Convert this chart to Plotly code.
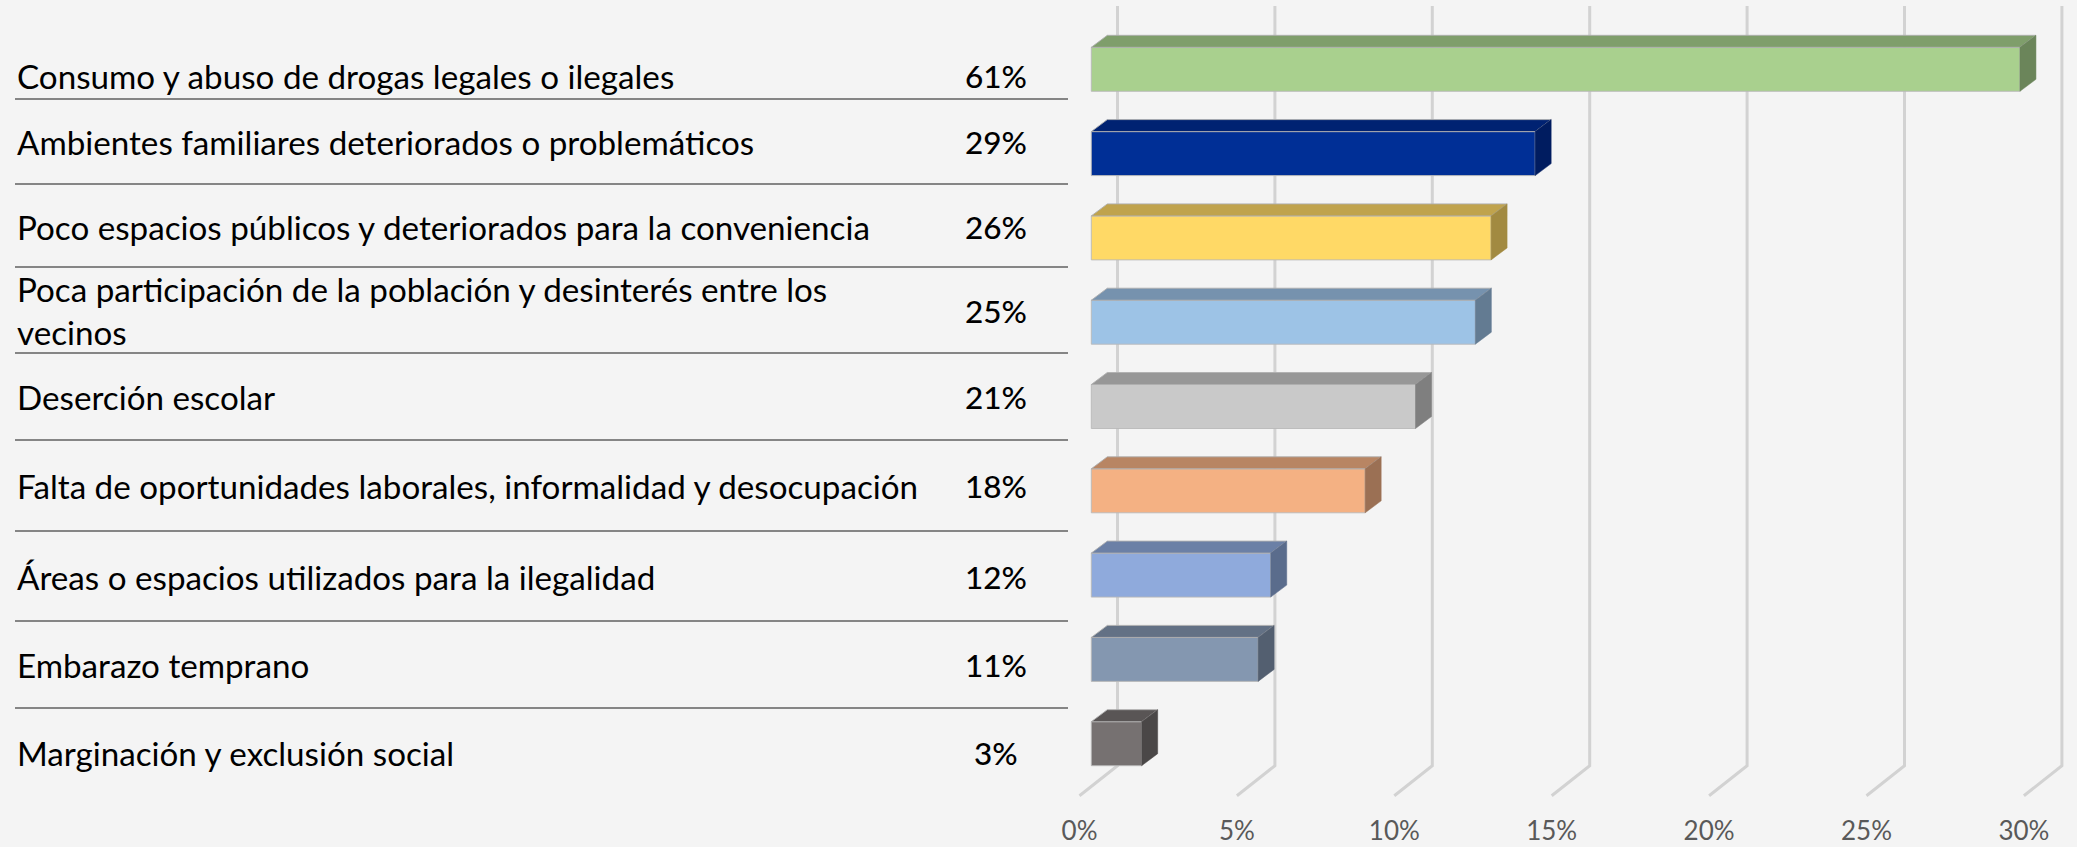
import plotly.graph_objects as go

# ---------------- data ----------------
categories = [
    "Consumo y abuso de drogas legales o ilegales",
    "Ambientes familiares deteriorados o problemáticos",
    "Poco espacios públicos y deteriorados para la conveniencia",
    "Poca participación de la población y desinterés entre los<br>vecinos",
    "Deserción escolar",
    "Falta de oportunidades laborales, informalidad y desocupación",
    "Áreas o espacios utilizados para la ilegalidad",
    "Embarazo temprano",
    "Marginación y exclusión social",
]
pct_labels = ["61%", "29%", "26%", "25%", "21%", "18%", "12%", "11%", "3%"]
bar_values = [29.5, 14.1, 12.7, 12.2, 10.3, 8.7, 5.7, 5.3, 1.6]
tick_values = [0, 5, 10, 15, 20, 25, 30]
tick_labels = ["0%", "5%", "10%", "15%", "20%", "25%", "30%"]

front_colors = ["#a9d08e", "#002f96", "#ffd966", "#9dc3e6", "#c9c9c9",
                "#f4b183", "#8faadc", "#8497b0", "#767171"]
top_colors = ["#7f9e6b", "#002272", "#c0a34d", "#7692ae", "#979797",
              "#b88563", "#6b80a6", "#637185", "#595555"]
side_colors = ["#6b855a", "#001c60", "#a28a41", "#637b92", "#7f7f7f",
               "#9b7054", "#5a6c8c", "#535f70", "#4a4747"]

# ---------------- geometry (pixels) ----------------
W, H = 2077, 847
PB = 813                 # bottom of plot area (px)
PX0, PXS = 1079.5, 31.48  # pixel of x=0 on the floor front edge, px per unit
Y0, YS = 69.3, 84.3      # pixel of first category centre, px per category

BASE = 11.8 / PXS        # oblique offset of bar front plane
BAR_H = 44 / YS          # bar thickness (category units)
DX, DY = 16 / PXS, 12 / YS   # bar depth projection
WALL_DX = 38 / PXS       # wall offset from floor front edge
WALL_TOP = (6 - Y0) / YS
WALL_BOTTOM = (765.7 - Y0) / YS
FLOOR_FRONT = (795.7 - Y0) / YS

idx = list(range(len(categories)))

fig = go.Figure()

# 3D faces: top & side polygons
for i, v in enumerate(bar_values):
    b = BASE
    top = i - BAR_H / 2
    bot = i + BAR_H / 2
    fig.add_trace(go.Scatter(
        x=[b, b + v, b + v + DX, b + DX, b],
        y=[top, top, top - DY, top - DY, top],
        fill="toself", fillcolor=top_colors[i], mode="lines",
        line=dict(color="rgba(175,175,175,0.9)", width=1),
        hoverinfo="skip", showlegend=False))
    fig.add_trace(go.Scatter(
        x=[b + v, b + v + DX, b + v + DX, b + v, b + v],
        y=[top, top - DY, bot - DY, bot, top],
        fill="toself", fillcolor=side_colors[i], mode="lines",
        line=dict(color=side_colors[i], width=0.5),
        hoverinfo="skip", showlegend=False))

# front faces
fig.add_trace(go.Bar(
    x=bar_values, y=idx, base=[BASE] * len(idx), orientation="h",
    width=BAR_H,
    marker=dict(color=front_colors,
                line=dict(color="rgba(185,185,185,0.9)", width=1)),
    hoverinfo="skip", showlegend=False))

shapes = []
# wall + floor gridlines
for t in tick_values:
    shapes.append(dict(
        type="path", xref="x", yref="y", layer="below",
        path=f"M {t + WALL_DX} {WALL_TOP} L {t + WALL_DX} {WALL_BOTTOM} L {t} {FLOOR_FRONT}",
        line=dict(color="#d2d2d2", width=3)))

# table separators
sep_px = [99, 184, 267, 353, 440, 531, 621, 708]
for p in sep_px:
    shapes.append(dict(
        type="line", xref="paper", yref="paper",
        x0=15 / W, x1=1068 / W, y0=1 - p / PB, y1=1 - p / PB,
        line=dict(color="#858585", width=2)))

annotations = []
row_px = [76, 142, 227, 311, 397, 486, 577, 665, 753]
for i, cat in enumerate(categories):
    annotations.append(dict(
        text=cat, x=15 / W, y=1 - row_px[i] / PB, xref="paper", yref="paper",
        xanchor="left", yanchor="middle", align="left", showarrow=False,
        font=dict(family="Lato", size=33.2, color="#000000")))
    annotations.append(dict(
        text=pct_labels[i], x=996 / W, y=1 - row_px[i] / PB,
        xref="paper", yref="paper", xanchor="center", yanchor="middle",
        showarrow=False,
        font=dict(family="Lato", size=31.5, color="#000000", weight=500)))

fig.update_layout(
    width=W, height=H,
    margin=dict(l=0, r=0, t=0, b=H - PB, pad=0, autoexpand=False),
    paper_bgcolor="#f4f4f4", plot_bgcolor="rgba(0,0,0,0)",
    shapes=shapes, annotations=annotations,
    showlegend=False,
    xaxis=dict(range=[-PX0 / PXS, (W - PX0) / PXS], tickvals=tick_values,
               ticktext=tick_labels, showgrid=False, zeroline=False,
               showline=False, ticks="", automargin=False,
               tickfont=dict(family="Lato", size=26, color="#595959")),
    yaxis=dict(range=[(PB - Y0) / YS, -Y0 / YS], showgrid=False,
               zeroline=False, showline=False, showticklabels=False,
               automargin=False),
)

fig.write_html(
    "out.html",
    config={"displayModeBar": False},
    post_script="document.body.style.margin='0';document.body.style.background='#f4f4f4';",
)
